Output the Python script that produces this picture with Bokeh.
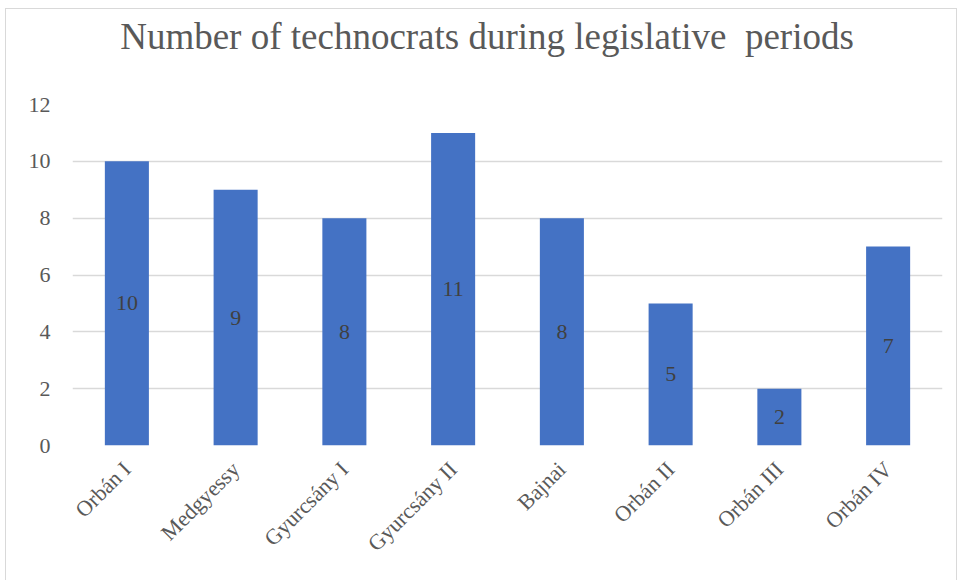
from bokeh.plotting import figure
from bokeh.models import ColumnDataSource, LabelSet, Range1d, FixedTicker, Div
from bokeh.layouts import column
from bokeh.embed import file_html
from bokeh.resources import INLINE
from math import pi

categories = ["Orbán I", "Medgyessy", "Gyurcsány I", "Gyurcsány II", "Bajnai", "Orbán II", "Orbán III", "Orbán IV"]
values = [10, 9, 8, 11, 8, 5, 2, 7]
y_ticks = [0, 2, 4, 6, 8, 10, 12]
title_text = "Number of technocrats during legislative  periods"

FONT = "Liberation Serif"
TXT = "#595959"
BORDER = "1px solid #D9D9D9"

src = ColumnDataSource(dict(cat=categories, val=values, mid=[v / 2 for v in values],
                            lab=[str(v) for v in values]))

title = Div(text=title_text, width=952, height=58, margin=0,
            styles={"font-family": FONT, "font-size": "37px", "color": TXT,
                    "text-align": "center", "line-height": "56px", "white-space": "pre",
                    "padding-left": "12px", "box-sizing": "border-box", "width": "952px",
                    "border-top": BORDER, "border-left": BORDER, "border-right": BORDER})

p = figure(x_range=categories, y_range=Range1d(0, 12), width=952, height=514,
           output_backend="svg", toolbar_location=None, margin=0,
           min_border_left=66, min_border_right=16, min_border_top=38, min_border_bottom=135,
           styles={"border-left": BORDER, "border-right": BORDER})

p.vbar(x="cat", top="val", width=0.405, source=src, fill_color="#4472C4", line_color=None)

labels = LabelSet(x="cat", y="mid", text="lab", source=src, text_align="center",
                  text_baseline="middle", text_font_size="22px", text_color="#404040",
                  text_font=FONT)
p.add_layout(labels)

p.outline_line_color = None
p.xgrid.grid_line_color = None
p.ygrid.grid_line_color = "#D9D9D9"
p.ygrid.grid_line_width = 1.5
p.yaxis.ticker = FixedTicker(ticks=y_ticks)

for ax in (p.xaxis, p.yaxis):
    ax.axis_line_color = None
    ax.major_tick_line_color = None
    ax.minor_tick_line_color = None
    ax.major_label_text_font = FONT
    ax.major_label_text_font_size = "22px"
    ax.major_label_text_color = TXT

p.yaxis.major_label_standoff = 16
p.xaxis.major_label_orientation = pi / 4
p.xaxis.major_label_standoff = 14
p.x_range.range_padding = 0.0

layout = column(title, p, spacing=0, margin=(8, 0, 0, 5))

open("out.html", "w").write(file_html(layout, INLINE))
